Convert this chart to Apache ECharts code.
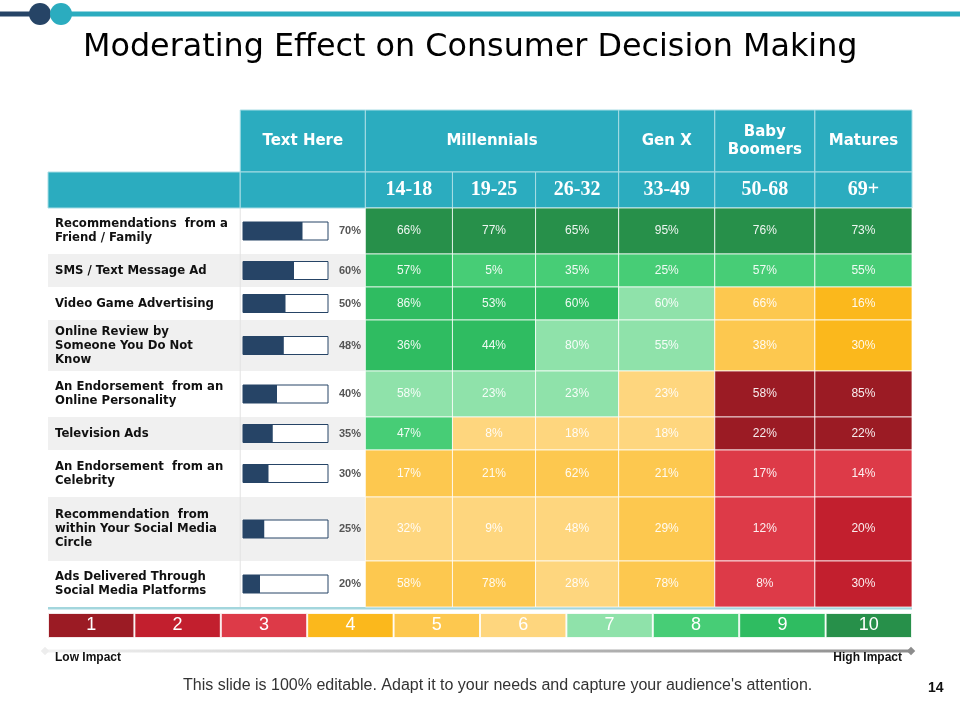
<!DOCTYPE html>
<html>
<head>
<meta charset="utf-8">
<script src="https://cdn.jsdelivr.net/npm/echarts@6/dist/echarts.min.js"></script>
<style>
  html, body { margin: 0; padding: 0; background: #fff; }
  #main { width: 960px; height: 720px; }
</style>
</head>
<body>
<div id="main"></div>
<script>
var rowLabels = [
  'Recommendations  from a\nFriend / Family',
  'SMS / Text Message Ad',
  'Video Game Advertising',
  'Online Review by\nSomeone You Do Not\nKnow',
  'An Endorsement  from an\nOnline Personality',
  'Television Ads',
  'An Endorsement  from an\nCelebrity',
  'Recommendation  from\nwithin Your Social Media\nCircle',
  'Ads Delivered Through\nSocial Media Platforms'
];
var reachPct = [70, 60, 50, 48, 40, 35, 30, 25, 20];
var generations = ['Millennials', 'Gen X', 'Baby\nBoomers', 'Matures'];
var generationSpan = [3, 1, 1, 1];
var ageGroups = ['14-18', '19-25', '26-32', '33-49', '50-68', '69+'];
var cellValues = [
  [66, 77, 65, 95, 76, 73],
  [57, 5, 35, 25, 57, 55],
  [86, 53, 60, 60, 66, 16],
  [36, 44, 80, 55, 38, 30],
  [58, 23, 23, 23, 58, 85],
  [47, 8, 18, 18, 22, 22],
  [17, 21, 62, 21, 17, 14],
  [32, 9, 48, 29, 12, 20],
  [58, 78, 28, 78, 8, 30]
];
// impact level (1..10) of every cell
var cellLevels = [
  [10, 10, 10, 10, 10, 10],
  [9, 8, 8, 8, 8, 8],
  [9, 9, 9, 7, 5, 4],
  [9, 9, 7, 7, 5, 4],
  [7, 7, 7, 6, 1, 1],
  [8, 6, 6, 6, 1, 1],
  [5, 5, 5, 5, 3, 3],
  [6, 6, 6, 5, 3, 2],
  [5, 5, 6, 5, 3, 2]
];
var impactScale = ['1', '2', '3', '4', '5', '6', '7', '8', '9', '10'];

// layout
var colWidths = [192, 125, 87, 83, 83, 96, 100, 97];
var rowHeights = [62, 36, 46, 33, 33, 51, 46, 33, 47, 64, 46];
var levelColors = ['#9B1B24', '#C21F2E', '#DD3A48', '#FBB81C', '#FDC84F',
                   '#FED67E', '#8FE2AA', '#47CD76', '#2FBC61', '#27904A'];
var teal = '#2BACBF', navy = '#264466';
var sans = "'Liberation Sans', Arial, sans-serif";

function edges(a) {
  var e = [0];
  a.forEach(function (w) { e.push(e[e.length - 1] + w); });
  return e;
}
var colEdge = edges(colWidths), rowEdge = edges(rowHeights);
var tableW = colEdge[colEdge.length - 1], tableH = rowEdge[rowEdge.length - 1];

function box(api, c0, c1, r0, r1) {
  var p0 = api.coord([colEdge[c0], rowEdge[r0]]);
  var p1 = api.coord([colEdge[c1], rowEdge[r1]]);
  return { x: p0[0], y: p0[1], width: p1[0] - p0[0], height: p1[1] - p0[1] };
}

// header cells: [c0, c1, row, text]
var headCells = [[1, 2, 0, 'Text Here']];
var c = 2;
generations.forEach(function (g, i) {
  headCells.push([c, c + generationSpan[i], 0, g]);
  c += generationSpan[i];
});
headCells.push([0, 1, 1, ''], [1, 2, 1, '']);
ageGroups.forEach(function (a, i) { headCells.push([2 + i, 3 + i, 1, a]); });

var bodyData = [];
cellValues.forEach(function (row, r) {
  row.forEach(function (v, k) { bodyData.push([k, r, v, cellLevels[r][k]]); });
});

var chart = echarts.init(document.getElementById('main'), null, { renderer: 'canvas' });

var hidden = { show: false };
var option = {
  animation: false,
  grid: [
    { left: 48, top: 110, width: 864, height: tableH },
    { left: 243, top: 110, width: 85, height: tableH },
    { left: 48, top: 613, width: 864, height: 25 }
  ],
  xAxis: [
    { type: 'value', gridIndex: 0, min: 0, max: tableW, axisLine: hidden, axisTick: hidden, axisLabel: hidden, splitLine: hidden },
    { type: 'value', gridIndex: 1, min: 0, max: 100, axisLine: hidden, axisTick: hidden, axisLabel: hidden, splitLine: hidden },
    { type: 'category', gridIndex: 2, data: impactScale, axisLine: hidden, axisTick: hidden, axisLabel: hidden, splitLine: hidden }
  ],
  yAxis: [
    { type: 'value', gridIndex: 0, min: 0, max: tableH, inverse: true, axisLine: hidden, axisTick: hidden, axisLabel: hidden, splitLine: hidden },
    { type: 'value', gridIndex: 1, min: 0, max: tableH, inverse: true, axisLine: hidden, axisTick: hidden, axisLabel: hidden, splitLine: hidden },
    { type: 'value', gridIndex: 2, min: 0, max: 1, axisLine: hidden, axisTick: hidden, axisLabel: hidden, splitLine: hidden }
  ],
  series: [
    { // row stripes and labels
      type: 'custom', xAxisIndex: 0, yAxisIndex: 0, silent: true, clip: false,
      data: rowLabels.map(function (l, r) { return [r]; }),
      renderItem: function (params, api) {
        var r = params.dataIndex;
        var b = box(api, 0, 2, r + 2, r + 3);
        var sep = api.coord([colEdge[1], 0])[0];
        return {
          type: 'group',
          children: [
            { type: 'rect', shape: b, style: { fill: r % 2 ? '#F0F0F0' : '#FFFFFF' } },
            { type: 'line', shape: { x1: sep, y1: b.y, x2: sep, y2: b.y + b.height }, style: { stroke: '#E2E2E2', lineWidth: 1 } },
            { type: 'text', style: {
                text: rowLabels[r], x: b.x + 7, y: b.y + b.height / 2,
                verticalAlign: 'middle', fill: '#111',
                font: "bold 11.7px 'DejaVu Sans', Verdana, sans-serif", lineHeight: 14 } }
          ]
        };
      }
    },
    { // header
      type: 'custom', xAxisIndex: 0, yAxisIndex: 0, silent: true, clip: false,
      data: headCells.map(function (h) { return [h[0], h[2]]; }),
      renderItem: function (params, api) {
        var h = headCells[params.dataIndex];
        var b = box(api, h[0], h[1], h[2], h[2] + 1);
        var font = h[2] === 0
          ? "bold 15px 'DejaVu Sans', Verdana, sans-serif"
          : "bold 20px 'Liberation Serif', Cambria, serif";
        return {
          type: 'group',
          children: [
            { type: 'rect', shape: b, style: { fill: teal, stroke: '#A8DDE5', lineWidth: 1 } },
            { type: 'text', style: {
                text: h[3], x: b.x + b.width / 2, y: b.y + b.height / 2,
                align: 'center', verticalAlign: 'middle', fill: '#fff',
                font: font, lineHeight: 18 } }
          ]
        };
      }
    },
    { // heat cells
      type: 'custom', xAxisIndex: 0, yAxisIndex: 0, silent: true, clip: false,
      data: bodyData,
      renderItem: function (params, api) {
        var k = api.value(0), r = api.value(1);
        var b = box(api, k + 2, k + 3, r + 2, r + 3);
        return {
          type: 'group',
          children: [
            { type: 'rect', shape: b, style: { fill: levelColors[api.value(3) - 1], stroke: 'rgba(255,255,255,0.75)', lineWidth: 1 } },
            { type: 'text', style: {
                text: api.value(2) + '%', x: b.x + b.width / 2, y: b.y + b.height / 2,
                align: 'center', verticalAlign: 'middle', fill: 'rgba(255,255,255,0.92)',
                font: '12px ' + sans } }
          ]
        };
      }
    },
    { // reach bars
      type: 'custom', xAxisIndex: 1, yAxisIndex: 1, silent: true, clip: false,
      data: reachPct.map(function (v, r) { return [v, r]; }),
      renderItem: function (params, api) {
        var v = api.value(0), r = api.value(1);
        var yc = api.coord([0, (rowEdge[r + 2] + rowEdge[r + 3]) / 2])[1];
        var x0 = api.coord([0, 0])[0], x1 = api.coord([100, 0])[0], xv = api.coord([v, 0])[0];
        var h = 18;
        return {
          type: 'group',
          children: [
            { type: 'rect', shape: { x: x0, y: yc - h / 2, width: x1 - x0, height: h }, style: { fill: '#fff', stroke: navy, lineWidth: 1 } },
            { type: 'rect', shape: { x: x0, y: yc - h / 2, width: xv - x0, height: h }, style: { fill: navy } },
            { type: 'text', style: {
                text: v + '%', x: x1 + 33, y: yc, align: 'right', verticalAlign: 'middle',
                fill: '#555', font: 'bold 11px ' + sans } }
          ]
        };
      }
    },
    { // impact scale
      type: 'bar', xAxisIndex: 2, yAxisIndex: 2, silent: true,
      barCategoryGap: '0%',
      data: impactScale.map(function (s, i) {
        return { value: 1, itemStyle: { color: levelColors[i] } };
      }),
      itemStyle: { borderColor: 'rgba(255,255,255,0.8)', borderWidth: 1 },
      label: { show: true, position: 'inside', formatter: '{b}', color: '#fff', fontSize: 18, fontFamily: sans }
    }
  ],
  graphic: [
    { type: 'line', shape: { x1: 0, y1: 14, x2: 40, y2: 14 }, style: { stroke: navy, lineWidth: 5 } },
    { type: 'line', shape: { x1: 61, y1: 14, x2: 960, y2: 14 }, style: { stroke: teal, lineWidth: 5 } },
    { type: 'circle', shape: { cx: 40, cy: 14, r: 11 }, style: { fill: navy } },
    { type: 'circle', shape: { cx: 61, cy: 14, r: 11 }, style: { fill: teal } },
    { type: 'text', left: 83, top: 32, style: { text: 'Moderating Effect on Consumer Decision Making', fill: '#000', font: "31.8px 'DejaVu Sans', Verdana, sans-serif" } },
    { type: 'line', shape: { x1: 48, y1: 608, x2: 912, y2: 608 }, style: { stroke: '#A3D6DD', lineWidth: 3 } },
    { type: 'line', shape: { x1: 46, y1: 651, x2: 910, y2: 651 }, style: {
        lineWidth: 3,
        stroke: new echarts.graphic.LinearGradient(0, 0, 1, 0, [{ offset: 0, color: '#F2F2F2' }, { offset: 1, color: '#8C8C8C' }]) } },
    { type: 'rect', x: 45, y: 651, rotation: Math.PI / 4, shape: { x: -3, y: -3, width: 6, height: 6 }, style: { fill: '#EDEDED' } },
    { type: 'rect', x: 911, y: 651, rotation: Math.PI / 4, shape: { x: -3, y: -3, width: 6, height: 6 }, style: { fill: '#8C8C8C' } },
    { type: 'text', left: 55, top: 652, style: { text: 'Low Impact', fill: '#111', font: 'bold 12px ' + sans } },
    { type: 'text', right: 58, top: 652, style: { text: 'High Impact', fill: '#111', font: 'bold 12px ' + sans } },
    { type: 'text', left: 183, top: 678, style: { text: "This slide is 100% editable. Adapt it to your needs and capture your audience's attention.", fill: '#333', font: '16px ' + sans } },
    { type: 'text', left: 928, top: 681, style: { text: '14', fill: '#111', font: 'bold 14px ' + sans } }
  ]
};
chart.setOption(option);
</script>
</body>
</html>
